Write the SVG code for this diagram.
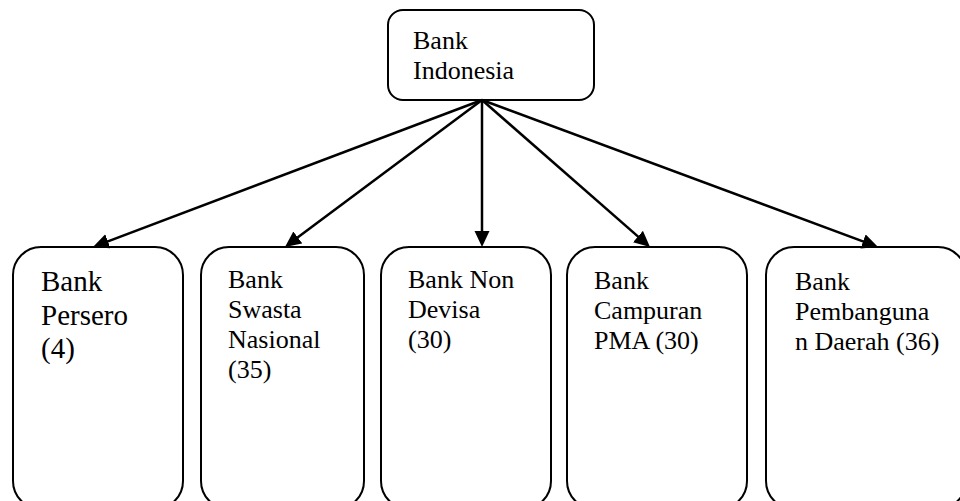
<svg xmlns="http://www.w3.org/2000/svg" width="960" height="501" viewBox="0 0 960 501">
<style>
.box{fill:#fff;stroke:#000;stroke-width:2}
.t{font-family:"Liberation Serif","Times New Roman",serif;font-size:26px;fill:#000}
.big{font-size:29px}
.conn line{stroke:#000;stroke-width:2.5;marker-end:url(#ah)}
</style>
<defs>
<marker id="ah" markerUnits="userSpaceOnUse" markerWidth="17" markerHeight="16" refX="12" refY="7.5" orient="auto">
<path d="M0,0 L16,7.5 L0,15 z" fill="#000"/>
</marker>
</defs>
<rect width="960" height="501" fill="#fff"/>
<g id="bank-indonesia">
<rect class="box" x="388" y="10" width="206" height="90" rx="15"/>
<text class="t" x="413" y="49">Bank</text>
<text class="t" x="413" y="79">Indonesia</text>
</g>
<g id="bank-persero">
<rect class="box" x="13" y="247" width="170" height="262" rx="28"/>
<text class="t big" x="41" y="291">Bank</text>
<text class="t big" x="41" y="325">Persero</text>
<text class="t big" x="41" y="358">(4)</text>
</g>
<g id="bank-swasta">
<rect class="box" x="201" y="247" width="163" height="262" rx="28"/>
<text class="t" x="228" y="288">Bank</text>
<text class="t" x="228" y="318">Swasta</text>
<text class="t" x="228" y="348">Nasional</text>
<text class="t" x="228" y="378">(35)</text>
</g>
<g id="bank-non-devisa">
<rect class="box" x="381" y="247" width="170" height="262" rx="28"/>
<text class="t" x="408" y="288">Bank Non</text>
<text class="t" x="408" y="318">Devisa</text>
<text class="t" x="408" y="348">(30)</text>
</g>
<g id="bank-campuran">
<rect class="box" x="567" y="247" width="180" height="262" rx="28"/>
<text class="t" x="594" y="289">Bank</text>
<text class="t" x="594" y="319">Campuran</text>
<text class="t" x="594" y="349">PMA (30)</text>
</g>
<g id="bank-pembangunan">
<rect class="box" x="766" y="247" width="200" height="262" rx="28"/>
<text class="t" x="795" y="290">Bank</text>
<text class="t" x="795" y="320">Pembanguna</text>
<text class="t" x="795" y="350">n Daerah (36)</text>
</g>
<g id="connectors" class="conn">
<line x1="482" y1="100" x2="96.7" y2="245.6"/>
<line x1="482" y1="100" x2="288.2" y2="244.6"/>
<line x1="482" y1="100" x2="482" y2="243"/>
<line x1="482" y1="100" x2="647" y2="244.4"/>
<line x1="482" y1="100" x2="874.3" y2="245.6"/>
</g>
</svg>
